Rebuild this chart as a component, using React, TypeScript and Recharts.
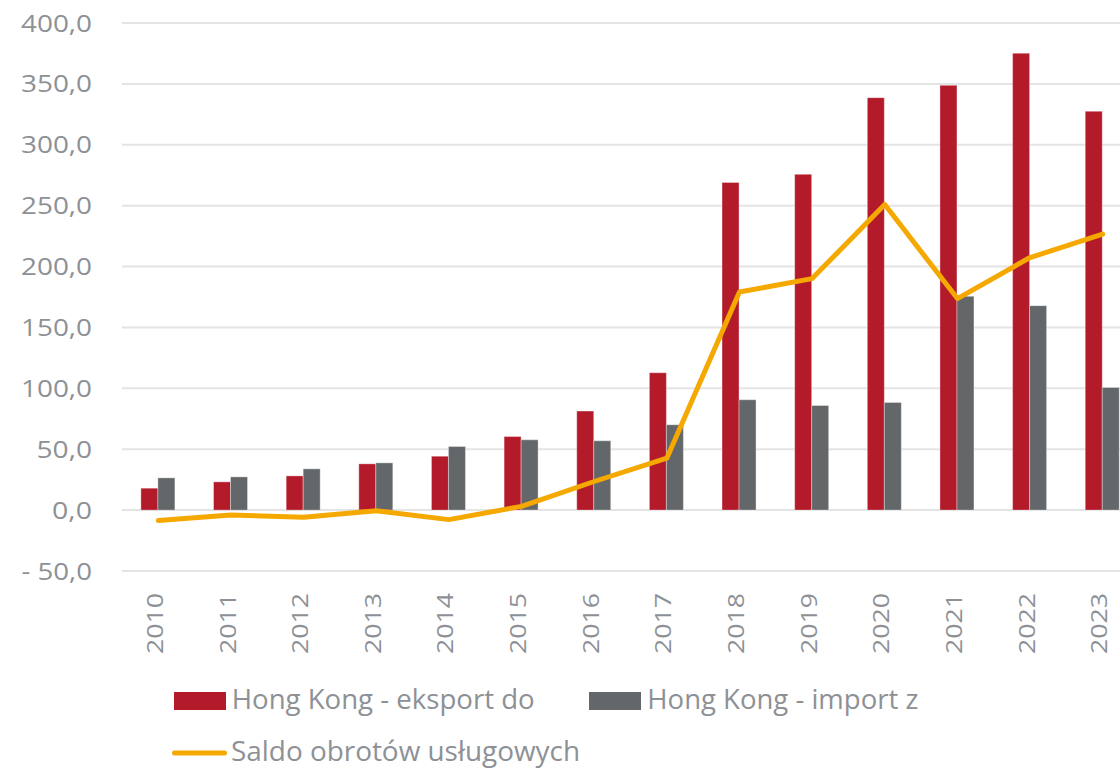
import React from 'react';
import { ComposedChart, Bar, Line, XAxis, YAxis, CartesianGrid, Legend } from 'recharts';

const years = ['2010', '2011', '2012', '2013', '2014', '2015', '2016', '2017', '2018', '2019', '2020', '2021', '2022', '2023'];
const exportValues = [18.0, 23.2, 28.1, 38.0, 44.3, 60.4, 81.3, 112.8, 269.1, 275.7, 338.7, 348.8, 375.2, 327.5];
const importValues = [26.5, 27.3, 33.9, 38.8, 52.2, 57.7, 56.9, 70.1, 90.6, 85.9, 88.4, 175.6, 167.9, 100.7];
const balanceValues = [-8.6, -4.0, -5.9, -0.6, -7.8, 3.1, 23.5, 42.6, 179.1, 190.1, 251.0, 173.7, 207.4, 226.6];
const yTicks = [-50, 0, 50, 100, 150, 200, 250, 300, 350, 400];

const seriesNames = {
  exp: 'Hong Kong - eksport do',
  imp: 'Hong Kong - import z',
  bal: 'Saldo obrotów usługowych',
};

const COLORS = {
  exp: '#B31B2A',
  imp: '#63676A',
  bal: '#F5A800',
  text: '#8D9196',
  grid: '#E4E4E4',
};

const FONT = '"Open Sans", sans-serif';

const data = years.map((y, i) => ({
  year: y,
  exp: exportValues[i],
  imp: importValues[i],
  bal: balanceValues[i],
}));

const formatY = (v: number) => {
  const s = Math.abs(v).toFixed(1).replace('.', ',');
  return v < 0 ? `- ${s}` : s;
};

const YTick = (props: any) => {
  const { x, y, payload } = props;
  const label = formatY(payload.value);
  const digits = label.replace(/[^0-9]/g, '').length;
  const len = digits * 15.5 + 9 + (label.startsWith('-') ? 15 : 0);
  return (
    <text
      x={x}
      y={y + 8.5}
      textAnchor="end"
      fill={COLORS.text}
      fontFamily={FONT}
      fontSize={23.5}
      textLength={len}
      lengthAdjust="spacingAndGlyphs"
    >
      {label}
    </text>
  );
};

const XTick = (props: any) => {
  const { x, y, payload } = props;
  return (
    <text
      transform={`translate(${x + 4.6}, ${y}) rotate(-90)`}
      textAnchor="end"
      fill={COLORS.text}
      fontFamily={FONT}
      fontSize={21}
      textLength={61}
      lengthAdjust="spacingAndGlyphs"
    >
      {payload.value}
    </text>
  );
};

const LegendContent = () => (
  <svg width={1120} height={768} style={{ position: 'absolute', left: 0, top: 0, overflow: 'visible', display: 'block' }}>
    <rect x={174} y={692} width={52} height={18} fill={COLORS.exp} />
    <text x={231.7} y={709.3} fill={COLORS.text} fontFamily={FONT} fontSize={26.5} textLength={303} lengthAdjust="spacingAndGlyphs">
      {seriesNames.exp}
    </text>
    <rect x={589} y={692} width={52} height={18} fill={COLORS.imp} />
    <text x={647.3} y={709.3} fill={COLORS.text} fontFamily={FONT} fontSize={26.5} textLength={271} lengthAdjust="spacingAndGlyphs">
      {seriesNames.imp}
    </text>
    <line x1={174.5} y1={753} x2={224.5} y2={753} stroke={COLORS.bal} strokeWidth={5} strokeLinecap="round" />
    <text x={231} y={761} fill={COLORS.text} fontFamily={FONT} fontSize={26.5} textLength={349} lengthAdjust="spacingAndGlyphs">
      {seriesNames.bal}
    </text>
  </svg>
);

export default function App() {
  return (
    <div style={{ position: 'fixed', left: 0, top: 0, width: 1120, height: 768, overflow: 'hidden', background: '#fff' }}>
      <ComposedChart
        width={1139}
        height={768}
        data={data}
        margin={{ top: 23, right: 0, left: 0, bottom: 97 }}
        barCategoryGap="26%"
        barGap={0}
      >
        <CartesianGrid vertical={false} stroke={COLORS.grid} strokeWidth={2} />
        <XAxis
          dataKey="year"
          height={100}
          axisLine={false}
          tickLine={false}
          tickSize={0}
          tickMargin={22}
          interval={0}
          tick={<XTick />}
        />
        <YAxis
          width={122}
          domain={[-50, 400]}
          ticks={yTicks}
          axisLine={false}
          tickLine={false}
          tickSize={0}
          tickMargin={30}
          interval={0}
          tick={<YTick />}
        />
        <Legend
          content={<LegendContent />}
          wrapperStyle={{ position: 'absolute', left: 0, top: 0, bottom: 'auto', width: 0, height: 0, overflow: 'visible' }}
        />
        <Bar dataKey="exp" name={seriesNames.exp} fill={COLORS.exp} stroke="#ffffff" strokeOpacity={0.35} strokeWidth={1} isAnimationActive={false} />
        <Bar dataKey="imp" name={seriesNames.imp} fill={COLORS.imp} stroke="#ffffff" strokeOpacity={0.35} strokeWidth={1} isAnimationActive={false} />
        <Line
          type="linear"
          dataKey="bal"
          name={seriesNames.bal}
          stroke={COLORS.bal}
          strokeWidth={5}
          strokeLinecap="round"
          strokeLinejoin="round"
          dot={false}
          activeDot={false}
          isAnimationActive={false}
        />
      </ComposedChart>
    </div>
  );
}
